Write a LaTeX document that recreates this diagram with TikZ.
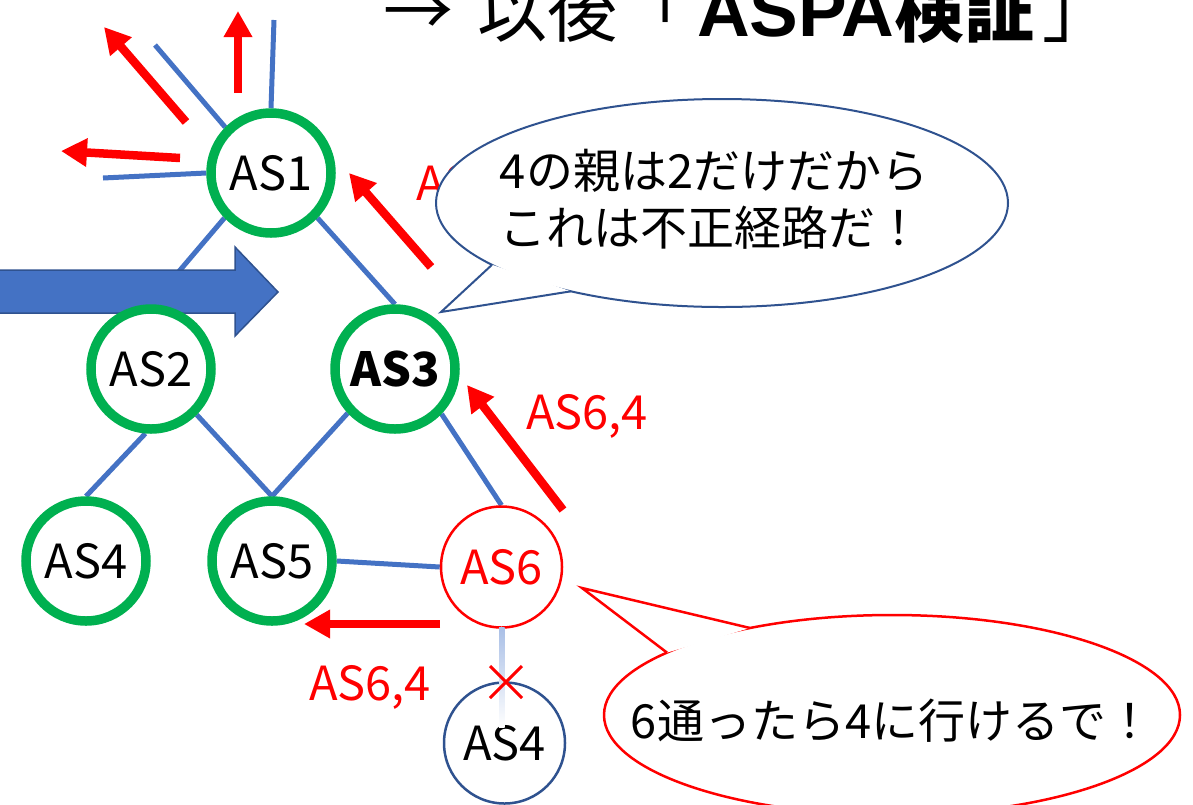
\documentclass[tikz,border=0pt]{standalone}
\usepackage{fontspec}
\setmainfont{Noto Sans CJK JP}
\newfontfamily\latinbold[BoldFont={Liberation Sans Bold}]{Liberation Sans}
\usetikzlibrary{arrows.meta,calc}
\definecolor{linkblue}{HTML}{4472C4}
\definecolor{navy}{HTML}{2F528F}
\definecolor{asgreen}{HTML}{00B050}
\definecolor{fadeblue}{HTML}{A9BFE6}
\begin{document}
\begin{tikzpicture}[x=1pt,y=-1pt,
  txt/.style={font=\fontsize{47}{56}\selectfont},
  asgood/.style={circle, draw=asgreen, line width=9.5pt, fill=white, minimum size=120pt, inner sep=0pt, txt},
  asbad/.style={circle, draw=red, line width=2.5pt, fill=white, minimum size=121pt, inner sep=0pt, txt, text=red},
  asplain/.style={circle, draw=navy, line width=2.5pt, fill=white, minimum size=121pt, inner sep=0pt, txt},
  link/.style={draw=linkblue, line width=5pt},
  route/.style={draw=red, line width=8.5pt, -{Triangle[length=26pt,width=27pt]}},
  redlabel/.style={txt, text=red, anchor=base west, inner sep=0pt},
  bubbletext/.style={txt, anchor=base, inner sep=0pt},
  titletext/.style={anchor=base west, inner sep=0pt, font=\fontsize{70}{80}\selectfont},
  bigarrow/.style={fill=linkblue, draw=navy, line width=1.5pt, line join=miter},
]
\useasboundingbox (0,0) rectangle (1193,804);
\clip (0,0) rectangle (1193,804);

% title (cut at top)
\node[titletext] (title1) at (383,36) {→};
\node[titletext] (title2) at (477,36) {以後「\hspace{10pt}{\latinbold\bfseries\fontsize{73}{80}\selectfont ASPA}\textbf{検証}\hspace{8pt}」};

% free ends of AS1's other links
\coordinate (up) at (274,20);
\coordinate (ul) at (155,45);
\coordinate (lf) at (103,178);

% node positions
\path (271,173) coordinate (p1) (151,369) coordinate (p2) (395,369) coordinate (p3)
      (86,561) coordinate (p4) (272,561) coordinate (p5) (501.5,567) coordinate (p6)
      (504.5,743) coordinate (p4b);

% invisible copies used to attach the links under the nodes
\node[asgood, draw=none, fill=none] (AS1) at (p1) {};
\node[asgood, draw=none, fill=none] (AS2) at (p2) {};
\node[asgood, draw=none, fill=none] (AS3) at (p3) {};
\node[asgood, draw=none, fill=none] (AS4) at (p4) {};
\node[asgood, draw=none, fill=none] (AS5) at (p5) {};
\node[asbad, draw=none, fill=none] (AS6) at (p6) {};

\draw[link] (AS1.north) -- (up);
\draw[link] (AS1.135) -- (ul);
\draw[link] (AS1.west) -- (lf);
\draw[link] (AS1.-136) -- (AS2.north);
\draw[link] (AS1.-44) -- (AS3.north);
\draw[link] (AS2.-95) -- (AS4.north);
\draw[link] (AS2.-45) -- (AS5.north);
\draw[link] (AS3.-137) -- (AS5.north);
\draw[link] (AS3.-44) -- (AS6.north);
\draw[link] (AS5.east) -- (AS6.west);

% big blue arrow
\draw[bigarrow] (-10,270) -- (235,270) -- (235,247) -- (278,292) -- (235,336) -- (235,313) -- (-10,313) -- cycle;

% AS nodes
\node[asgood] (n1) at (p1) {AS1};
\node[asgood] (n2) at (p2) {AS2};
\node[asgood] (n3) at (p3) {\bfseries AS3};
\node[asgood] (n4) at (p4) {AS4};
\node[asgood] (n5) at (p5) {AS5};
\node[asbad] (n6) at (p6) {AS6};
\node[asplain] (n4b) at (p4b) {AS4};

% faded link AS6 -> AS4 (bottom)
\coordinate (fadeend) at (504.5,727);
\shade[top color=fadeblue, bottom color=white] ($(n6.south)+(-2.5,-1)$) rectangle (fadeend);

% cross mark
\coordinate (x) at (506,682);
\draw[red, line width=3pt] ($(x)+(-16,-16)$) -- ($(x)+(16,16)$) ($(x)+(16,-16)$) -- ($(x)+(-16,16)$);

% red route arrows
\coordinate (t1) at (238,93);   \coordinate (h1) at (238,11);
\coordinate (t2) at (186,122);  \coordinate (h2) at (104,27);
\coordinate (t3) at (180,158);  \coordinate (h3) at (61,151);
\coordinate (t4) at (431,267);  \coordinate (h4) at (349,173);
\coordinate (t5) at (563,510);  \coordinate (h5) at (467,385);
\coordinate (t6) at (440,624);  \coordinate (h6) at (304,624);
\draw[route] (t1) -- (h1);
\draw[route] (t2) -- (h2);
\draw[route] (t3) -- (h3);
\draw[route] (t4) -- (h4);
\draw[route] (t5) -- (h5);
\draw[route] (t6) -- (h6);

% red labels
\node[redlabel] (lab1) at (416,200) {AS6,4};
\node[redlabel] (lab2) at (526,429) {AS6,4};
\node[redlabel] (lab3) at (309,700) {AS6,4};

% blue speech bubble
\coordinate (bc) at (722,203);
\coordinate (bb1) at (492,264.8);
\coordinate (bb2) at (571,291.3);
\coordinate (btip) at (441,312);
\draw[navy, line width=2pt, fill=white] (bc) ellipse [x radius=286pt, y radius=104pt];
\fill[white] (bb1) -- (btip) -- (bb2) -- cycle;
\draw[navy, line width=2pt, line join=miter] (bb1) -- (btip) -- (bb2);
\node[bubbletext] (bt1) at (714,188) {4の親は2だけだから};
\node[bubbletext] (bt2) at (711,245) {これは不正経路だ！};

% red speech bubble
\coordinate (rc) at (892,715);
\coordinate (rb1) at (750,628);
\coordinate (rb2) at (667,652.6);
\coordinate (rtip) at (582,588);
\draw[red, line width=2.5pt, fill=white] (rc) ellipse [x radius=288pt, y radius=100pt];
\fill[white] (rb1) -- (rtip) -- (rb2) -- cycle;
\draw[red, line width=2.5pt, line join=miter] (rb1) -- (rtip) -- (rb2);
\node[bubbletext] (rt) at (892,738) {6通ったら4に行けるで！};
\end{tikzpicture}
\end{document}
